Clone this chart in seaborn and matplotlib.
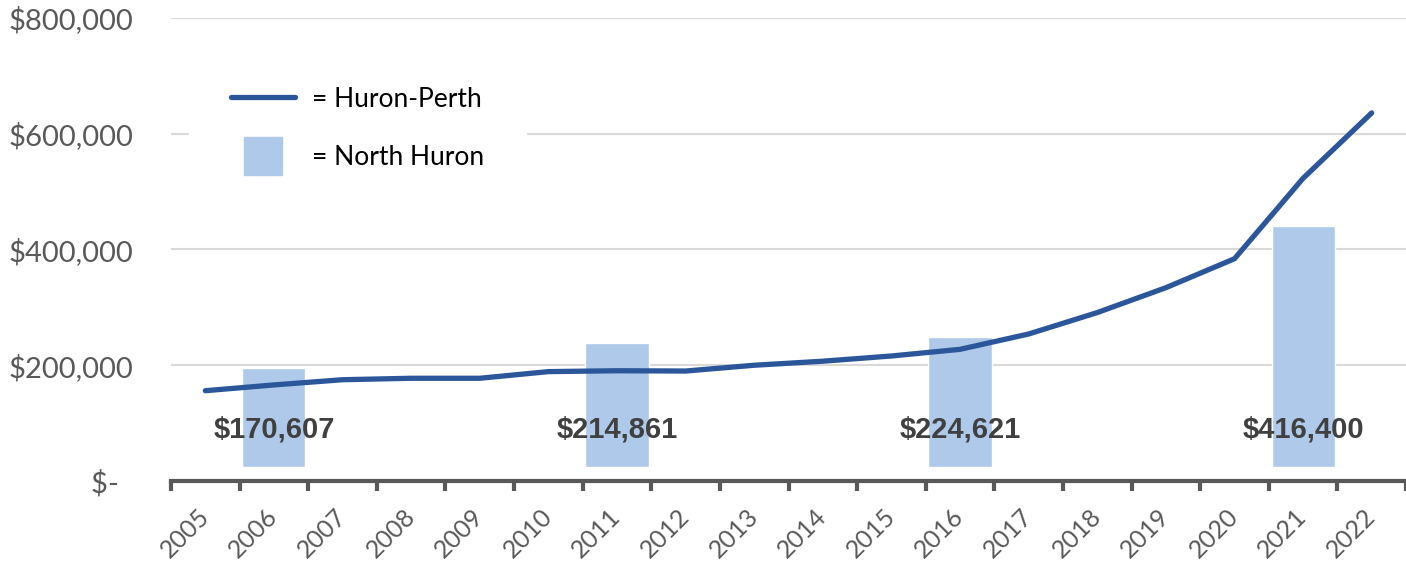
import matplotlib
matplotlib.use("Agg")
import matplotlib.pyplot as plt
from matplotlib.lines import Line2D
import seaborn as sns
import numpy as np
import pandas as pd

# --- data ---
years = list(range(2005, 2023))
huron_perth = [156000, 166000, 175000, 177500, 177500, 189000, 190500, 190000,
               200000, 207000, 216000, 227500, 254000, 291000, 334000, 384000,
               523000, 636000]
census_years = [2006, 2011, 2016, 2021]
north_huron = [170607, 214861, 224621, 416400]

line_color = '#2B579A'
bar_color = '#AFC9EA'
grey = '#595959'

sns.set_theme(style='white')
plt.rcParams['font.family'] = ['Lato', 'DejaVu Sans']

line_df = pd.DataFrame({'year': years, 'price': huron_perth})
bar_df = pd.DataFrame({'year': census_years, 'price': north_huron})

fig = plt.figure(figsize=(14.06, 5.66), dpi=100)
ax = fig.add_axes([171 / 1406, 1 - 481 / 566, 1235 / 1406, 463 / 566])
ax_bars = ax.twinx()
ax_line = ax.twinx()

# base axis: grid + ticks
ax.set_ylim(0, 800000)
ax.set_yticks(np.arange(0, 800001, 200000))
ax.set_yticklabels(['$-  '] + [f'${v:,.0f}' for v in range(200000, 800001, 200000)],
                   fontsize=21, color=grey)
ax.yaxis.grid(True, color='#D9D9D9', linewidth=1.5)
ax.tick_params(axis='y', length=0, pad=27)
for s in ['top', 'right', 'left']:
    ax.spines[s].set_visible(False)
ax.spines['bottom'].set_color(grey)
ax.spines['bottom'].set_linewidth(3)

ax.set_xlim(2004.5, 2022.5)
ax.set_xticks(np.arange(2004.5, 2023, 1))
ax.set_xticklabels([])
ax.tick_params(axis='x', which='major', bottom=True, length=7, width=3, color=grey)
ax.set_xticks(years, minor=True)
ax.set_xticklabels([str(y) for y in years], minor=True, fontsize=18, color=grey,
                   rotation=45, ha='right', va='center', rotation_mode='anchor')
ax.tick_params(axis='x', which='minor', bottom=True, length=0, pad=23)

# bars (North Huron), sitting slightly above the axis like the original
sns.barplot(data=bar_df, x='year', y='price', native_scale=True, width=0.92 / 5,
            color=bar_color, saturation=1, errorbar=None, ax=ax_bars)
ax_bars.set_ylim(-24000, 776000)

# line (Huron-Perth)
sns.lineplot(data=line_df, x='year', y='price', color=line_color, linewidth=3.8,
             solid_capstyle='round', ax=ax_line)
ax_line.set_ylim(0, 800000)

for a in (ax_bars, ax_line):
    a.set_xlim(2004.5, 2022.5)
    a.set_xlabel('')
    a.set_ylabel('')
    a.set_yticks([])
    for s in a.spines.values():
        s.set_visible(False)
ax.set_xlabel('')
ax.set_ylabel('')

for yr, v in zip(census_years, north_huron):
    ax_line.text(yr, 89000, f'${v:,.0f}', ha='center', va='center',
                 fontsize=21, fontweight='bold', color='#404040',
                 family=['Liberation Sans', 'DejaVu Sans'])

handles = [Line2D([], [], color=line_color, linewidth=3.8),
           Line2D([], [], marker='s', linestyle='none', markersize=28,
                  markerfacecolor=bar_color, markeredgecolor=bar_color)]
leg = ax_line.legend(handles, ['= Huron-Perth', '= North Huron'], loc='upper left',
                     bbox_to_anchor=(0.0146, 0.943), borderaxespad=0, fontsize=19,
                     frameon=True, facecolor='white', edgecolor='white', framealpha=1,
                     fancybox=False, handlelength=2.4, handletextpad=0.65,
                     labelspacing=1.27, borderpad=1.6)
for t in leg.get_texts():
    t.set_color('black')

fig.savefig('out.png', dpi=100)
